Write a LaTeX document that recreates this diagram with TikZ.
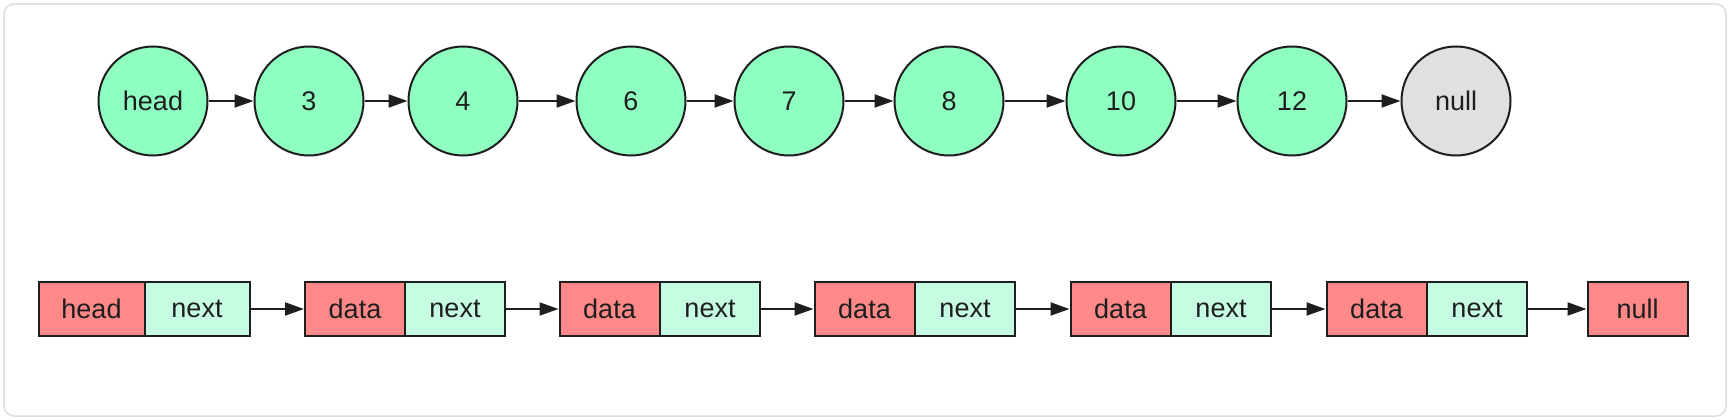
\documentclass[tikz,border=0pt]{standalone}
\usepackage{fontspec}
\setmainfont{Liberation Sans}
\usepackage{xcolor}
\usetikzlibrary{arrows.meta}
\definecolor{ringgreen}{HTML}{8EFFC1}
\definecolor{nullgray}{HTML}{E0E0E0}
\definecolor{datared}{HTML}{FF8888}
\definecolor{nextgreen}{HTML}{C6FCE1}
\definecolor{inkdark}{HTML}{1E1E1E}
\definecolor{framegray}{HTML}{DDDDDD}

\begin{document}
\begin{tikzpicture}[x=1pt,y=-1pt,
    ring/.style={circle,draw=inkdark,line width=2pt,minimum size=109pt,inner sep=0pt,fill=ringgreen,text=inkdark,font=\fontsize{27}{32}\selectfont},
    cell/.style={rectangle,draw=inkdark,line width=2pt,minimum height=54pt,minimum width=100pt,inner sep=0pt,text=inkdark,font=\fontsize{27}{32}\selectfont},
    link/.style={draw=inkdark,line width=2pt,-{Triangle[length=19pt,width=13pt]}}]
                \useasboundingbox (0,0) rectangle (1730,420);
                \draw[framegray,line width=1.5pt,rounded corners=10pt,fill=white] (4,4) rectangle (1726,416);

                \node[ring] (head) at (153,101) {head};
                \node[ring] (n3) at (309,101) {3};
                \node[ring] (n4) at (463,101) {4};
                \node[ring] (n6) at (631,101) {6};
                \node[ring] (n7) at (789,101) {7};
                \node[ring] (n8) at (949,101) {8};
                \node[ring] (n10) at (1121,101) {10};
                \node[ring] (n12) at (1292,101) {12};
                \node[ring,fill=nullgray] (null) at (1456,101) {null};

                \draw[link] (head) -- (n3);
                \draw[link] (n3) -- (n4);
                \draw[link] (n4) -- (n6);
                \draw[link] (n6) -- (n7);
                \draw[link] (n7) -- (n8);
                \draw[link] (n8) -- (n10);
                \draw[link] (n10) -- (n12);
                \draw[link] (n12) -- (null);

                \node[cell,fill=datared,minimum width=106pt] (h0) at (91.5,309) {head};
                \node[cell,fill=nextgreen,minimum width=105pt] (x0) at (197,309) {next};
                \node[cell,fill=datared] (d1) at (355,309) {data};
                \node[cell,fill=nextgreen] (x1) at (455,309) {next};
                \node[cell,fill=datared] (d2) at (609.5,309) {data};
                \node[cell,fill=nextgreen] (x2) at (710,309) {next};
                \node[cell,fill=datared] (d3) at (864.5,309) {data};
                \node[cell,fill=nextgreen] (x3) at (965,309) {next};
                \node[cell,fill=datared] (d4) at (1120.5,309) {data};
                \node[cell,fill=nextgreen] (x4) at (1221,309) {next};
                \node[cell,fill=datared] (d5) at (1376.5,309) {data};
                \node[cell,fill=nextgreen] (x5) at (1477,309) {next};
                \node[cell,fill=datared] (dnull) at (1637.5,309) {null};

                \draw[link] (x0) -- (d1);
                \draw[link] (x1) -- (d2);
                \draw[link] (x2) -- (d3);
                \draw[link] (x3) -- (d4);
                \draw[link] (x4) -- (d5);
                \draw[link] (x5) -- (dnull);
            \end{tikzpicture}
\end{document}
